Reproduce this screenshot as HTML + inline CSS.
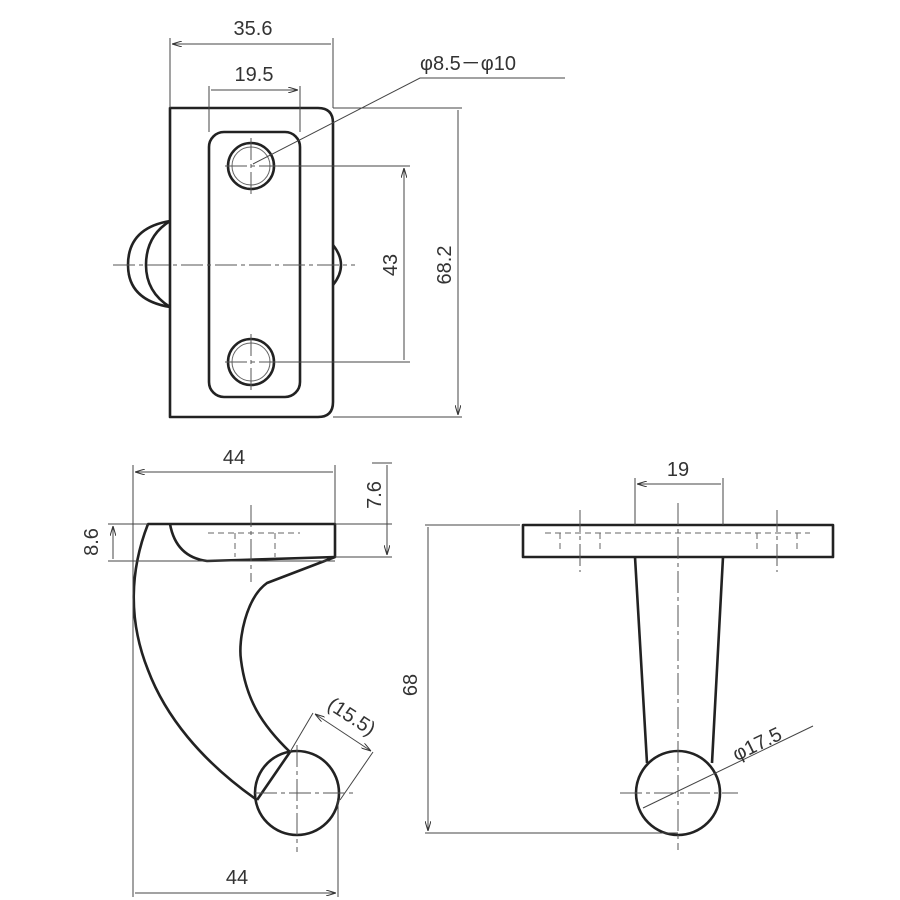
<!DOCTYPE html>
<html><head><style>body{margin:0;background:#fff}svg{display:block}text{font-family:"Liberation Sans",sans-serif;fill:#333;font-size:20px}</style></head><body>
<svg width="900" height="900" viewBox="0 0 900 900" xmlns="http://www.w3.org/2000/svg">
<defs><marker id="a" viewBox="0 0 10 6" refX="10" refY="3" markerWidth="10" markerHeight="6" orient="auto-start-reverse"><path d="M0,0L10,3L0,6" fill="none" stroke="#333" stroke-width="1"/></marker></defs>
<g fill="none" stroke="#222" stroke-width="2.6" stroke-linejoin="round">
<path d="M170,108H318Q333,108 333,123V402Q333,417 318,417H170Z"/>
<rect x="209" y="132" width="91" height="265" rx="15"/>
<circle cx="251" cy="166" r="23"/><circle cx="251" cy="362" r="23"/>
<path d="M170,221Q128,228 128,265Q128,300 170,307"/>
<path d="M170,221Q146,236 146,265Q146,292 170,307"/>
<path d="M333,245Q341,255 341,265Q341,275 333,285"/>
<path d="M148,524H335V557L267,583C246,598 238,640 241,660C246,700 262,725 290,752L257,800C200,760 165,715 148,670C128,620 130,570 148,524Z"/>
<path d="M170,524Q176,557 207,561L335,557"/>
<circle cx="297" cy="793" r="42" fill="#fff"/>
<path d="M290,752L257,800"/>
<rect x="523" y="525" width="310" height="32"/>
<path d="M635,557L647,763M723,557L712,763"/>
<circle cx="678" cy="793" r="42"/>
</g>
<g fill="none" stroke="#666" stroke-width="1">
<circle cx="251" cy="166" r="19"/><circle cx="251" cy="362" r="19"/>
</g>
<g fill="none" stroke="#444" stroke-width="1">
<path d="M170,108V38M333,108V38M209,132V86M300,132V86"/>
<path d="M172,44H331M211,90H298" marker-start="url(#a)" marker-end="url(#a)"/>
<path d="M275,166H410M275,362H410M333,108H462M333,417H462"/>
<path d="M404,168V360M458,110V415" marker-start="url(#a)" marker-end="url(#a)"/>
<path d="M253,164L420,78H565"/>
<path d="M133,465V897M335,465V524M338,800V897"/>
<path d="M135,472H333M135,893H336" marker-start="url(#a)" marker-end="url(#a)"/>
<path d="M108,524H148M108,561H335M335,524H392M335,557H392M372,463H392"/>
<path d="M113,526V559M387,465V555" marker-start="url(#a)" marker-end="url(#a)"/>
<path d="M313,713L290,752M373,752L340,800"/>
<path d="M315,714L371,751" marker-start="url(#a)" marker-end="url(#a)"/>
<path d="M635,478V525M723,478V525M425,525H520M425,833H678"/>
<path d="M637,484H721M428,527V831" marker-start="url(#a)" marker-end="url(#a)"/>
<path d="M643,808L813,726"/>
</g>
<g fill="none" stroke="#555" stroke-width="1" stroke-dasharray="22,4,4,4">
<path d="M113,265H355M251,138V194M225,166H278M251,334V390M225,362H278"/>
<path d="M251,505V582M297,745V852M255,793H355"/>
<path d="M678,503V850M620,793H738M580,510V572M777,510V572"/>
</g>
<g fill="none" stroke="#666" stroke-width="1" stroke-dasharray="6,4">
<path d="M208,533H300M235,533V557M275,533V557M545,533H810M560,533V550M600,533V550M757,533V550M797,533V550"/>
</g>
<text x="253" y="35" text-anchor="middle">35.6</text>
<text x="254" y="81" text-anchor="middle">19.5</text>
<text x="420" y="70">φ8.5－φ10</text>
<text transform="translate(397,265) rotate(-90)" text-anchor="middle">43</text>
<text transform="translate(451,265) rotate(-90)" text-anchor="middle">68.2</text>
<text x="234" y="464" text-anchor="middle">44</text>
<text x="237" y="884" text-anchor="middle">44</text>
<text transform="translate(98,542) rotate(-90)" text-anchor="middle">8.6</text>
<text transform="translate(381,495) rotate(-90)" text-anchor="middle">7.6</text>
<text transform="translate(348,722) rotate(33)" text-anchor="middle">(15.5)</text>
<text x="678" y="476" text-anchor="middle">19</text>
<text transform="translate(417,685) rotate(-90)" text-anchor="middle">68</text>
<text transform="translate(760,750) rotate(-26)" text-anchor="middle">φ17.5</text>
</svg>
</body></html>
